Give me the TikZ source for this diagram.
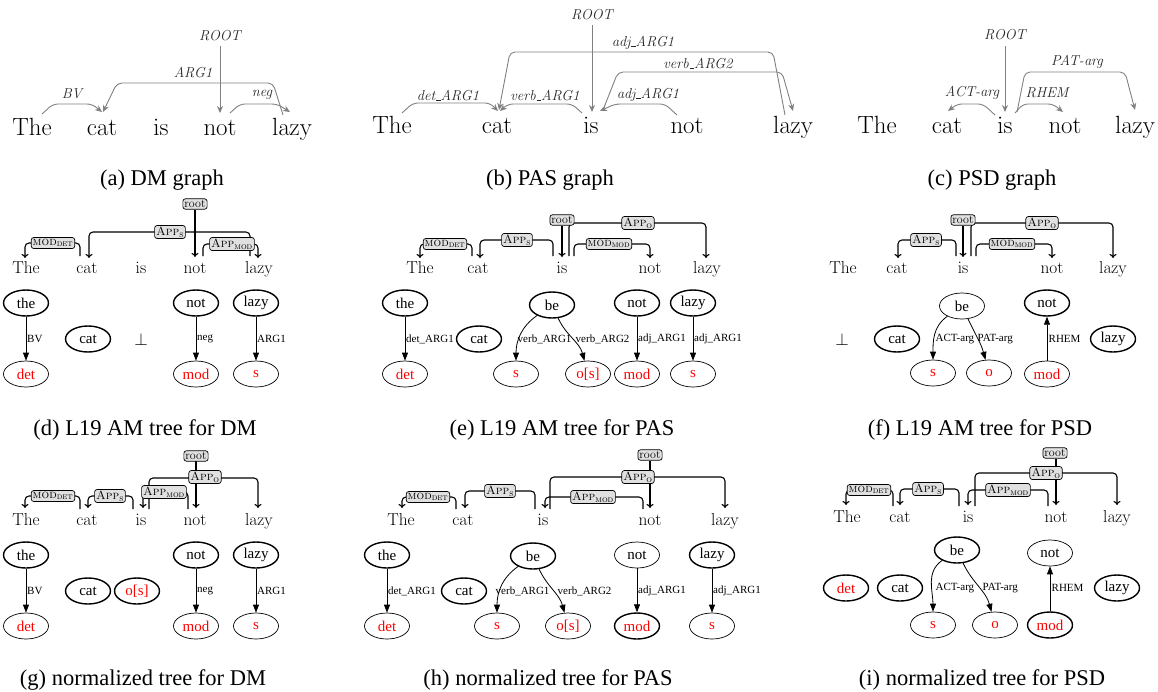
\documentclass[tikz,border=0pt]{standalone}
\usepackage{fontspec}
\newfontfamily\tms{Liberation Serif}
\newcommand{\lmf}{\fontencoding{OT1}\fontfamily{cmr}\selectfont}
\usetikzlibrary{arrows.meta,shapes.geometric}
\newcommand{\amAppS}{\textsc{App}\textsubscript{\textsc{s}}}
\newcommand{\amAppO}{\textsc{App}\textsubscript{\textsc{o}}}
\newcommand{\amAppMod}{\textsc{App}\textsubscript{\textsc{mod}}}
\newcommand{\amModDet}{\textsc{mod}\textsubscript{\textsc{det}}}
\newcommand{\amModMod}{\textsc{mod}\textsubscript{\textsc{mod}}}
\begin{document}
\begin{tikzpicture}[x=1pt,y=-1pt,
  gdep/.style={draw=black!50, line width=0.9pt, rounded corners=5pt, -{Stealth[length=7pt,width=6pt]}},
  glab/.style={font=\lmf\fontsize{15}{18}\selectfont\itshape, text=black!85, inner sep=0pt},
  topword/.style={font=\lmf\fontsize{23.5}{28}\selectfont, anchor=base, inner sep=0pt},
  tword/.style={font=\lmf\fontsize{18.5}{22}\selectfont, anchor=base, inner sep=0pt},
  capt/.style={font=\tms\fontsize{22.5}{27}\selectfont, anchor=base, inner sep=0pt},
  ambox/.style={draw, fill=black!12, rounded corners=2.5pt, inner sep=1.5pt, line width=0.7pt, font=\lmf\fontsize{12.5}{14}\selectfont},
  amline/.style={line width=1.1pt, rounded corners=4pt},
  amarr/.style={amline, -{To[length=4pt,width=7pt]}},
  ell/.style={ellipse, draw, line width=1.4pt, minimum width=45pt, minimum height=26pt, inner sep=0pt, font=\tms\fontsize{15}{18}\selectfont},
  ellthin/.style={ell, line width=0.7pt},
  rd/.style={text=red},
  tedge/.style={line width=0.8pt, -{Triangle[length=8pt,width=6pt]}},
  elab/.style={font=\tms\fontsize{11}{13}\selectfont, anchor=west, inner sep=0.5pt},
  perpn/.style={font=\lmf\fontsize{18}{22}\selectfont, inner sep=0pt}
]
\useasboundingbox (0,0) rectangle (1158,691);

%% ---------------- (a) DM graph
\node[topword] (aw1) at (32,135) {The};
\node[topword] (aw2) at (102,135) {cat};
\node[topword] (aw3) at (161,135) {is};
\node[topword] (aw4) at (220,135) {not};
\node[topword] (aw5) at (292,135) {lazy};
\draw[gdep] (42,114) -- (53,104) -- (92,104) -- (102,112);
\draw[gdep] (283,115) -- (273,83) -- (117,83) -- (103,112);
\draw[gdep] (230,113) -- (240,104) -- (277,104) -- (290,112);
\node[glab] (aroot) at (220,36) {ROOT};
\draw[gdep] (220,46) -- (220,113);
\node[glab] (alab1) at (72,94) {BV};
\node[glab] (alab2) at (193,73) {ARG1};
\node[glab] (alab3) at (262,95) {neg};
\node[capt] (capa) at (162,185) {(a) DM graph};

%% ---------------- (b) PAS graph
\node[topword] (bw1) at (392,133) {The};
\node[topword] (bw2) at (497,133) {cat};
\node[topword] (bw3) at (591,133) {is};
\node[topword] (bw4) at (687,133) {not};
\node[topword] (bw5) at (793,133) {lazy};
\draw[gdep] (402,113) -- (413,103) -- (490,103) -- (498,111);
\draw[gdep] (582,113) -- (572,104) -- (508,104) -- (500,111);
\draw[gdep] (677,115) -- (665,104) -- (615,104) -- (600,111);
\draw[gdep] (603,110) -- (618,72) -- (782,72) -- (793,111);
\draw[gdep] (785,115) -- (773,52) -- (510,52) -- (499,110);
\node[glab] (broot) at (592,15) {ROOT};
\draw[gdep] (592,25) -- (592,112);
\node[glab] (blab1) at (448,95) {det\_ARG1};
\node[glab] (blab2) at (545,95) {verb\_ARG1};
\node[glab] (blab3) at (648,95) {adj\_ARG1};
\node[glab] (blab4) at (698,63) {verb\_ARG2};
\node[glab] (blab5) at (643,43) {adj\_ARG1};
\node[capt] (capb) at (550,185) {(b) PAS graph};

%% ---------------- (c) PSD graph
\node[topword] (cw1) at (877,133) {The};
\node[topword] (cw2) at (947,133) {cat};
\node[topword] (cw3) at (1005,133) {is};
\node[topword] (cw4) at (1065,133) {not};
\node[topword] (cw5) at (1135,133) {lazy};
\draw[gdep] (995,115) -- (983,104) -- (957,104) -- (948,111);
\draw[gdep] (1015,113) -- (1023,104) -- (1053,104) -- (1063,112);
\draw[gdep] (1017,112) -- (1025,72) -- (1125,72) -- (1135,110);
\node[glab] (croot) at (1005,35) {ROOT};
\draw[gdep] (1005,46) -- (1005,112);
\node[glab] (clab1) at (972,93) {ACT-arg};
\node[glab] (clab2) at (1047,93) {RHEM};
\node[glab] (clab3) at (1077,62) {PAT-arg};
\node[capt] (capc) at (992,185) {(c) PSD graph};

%% ---------------- (d) L19 AM tree for DM
\node[tword] (dw1) at (26,273) {The};
\node[tword] (dw2) at (87,273) {cat};
\node[tword] (dw3) at (141,273) {is};
\node[tword] (dw4) at (195,273) {not};
\node[tword] (dw5) at (259,273) {lazy};
\draw[amarr] (195,210) -- (195,257);
\draw[amarr] (250,256) -- (250,232) -- (89,232) -- (89,258);
\draw[amarr] (203,256) -- (203,244) -- (258,244) -- (258,258);
\draw[amarr] (80,256) -- (80,243) -- (25,243) -- (25,258);
\node[ambox] (droot) at (195,204) {root};
\node[ambox] (dapps) at (170,232) {\amAppS};
\node[ambox] (dappm) at (232,244) {\amAppMod};
\node[ambox] (dmodd) at (53,243) {\amModDet};
\node[ell] (dthe) at (26,303) {the};
\node[ellthin,rd] (ddet) at (26,374) {det};
\node[ell] (dcat) at (88,339) {cat};
\node[perpn] (dbot) at (141,339) {$\perp$};
\node[ell] (dnot) at (196,303) {not};
\node[ellthin,rd] (dmod) at (196,374) {mod};
\node[ell] (dlazy) at (256,303) {lazy};
\node[ellthin,rd] (ds) at (256,374) {s};
\draw[tedge] (dthe) -- (ddet);
\draw[tedge] (dnot) -- (dmod);
\draw[tedge] (dlazy) -- (ds);
\node[elab] (dl1) at (26.5,339) {BV};
\node[elab] (dl2) at (196.5,339) {neg};
\node[elab] (dl3) at (256.5,339) {ARG1};
\node[capt] (capd) at (145,435) {(d) L19 AM tree for DM};

%% ---------------- (e) L19 AM tree for PAS
\node[tword] (ew1) at (420,273) {The};
\node[tword] (ew2) at (478,273) {cat};
\node[tword] (ew3) at (562,273) {is};
\node[tword] (ew4) at (650,273) {not};
\node[tword] (ew5) at (707,273) {lazy};
\draw[amarr] (562,226) -- (562,257);
\draw[amarr] (569,256) -- (569,223) -- (706,223) -- (706,258);
\draw[amarr] (574,256) -- (574,244) -- (650,244) -- (650,258);
\draw[amarr] (553,256) -- (553,240) -- (480,240) -- (480,258);
\draw[amarr] (472,256) -- (472,244) -- (420,244) -- (420,258);
\node[ambox] (eroot) at (562,220) {root};
\node[ambox] (eappo) at (638,223) {\amAppO};
\node[ambox] (emodm) at (609,244) {\amModMod};
\node[ambox] (eapps) at (517,240) {\amAppS};
\node[ambox] (emodd) at (445,244) {\amModDet};
\node[ell] (ethe) at (405,303) {the};
\node[ellthin,rd] (edet) at (405,374) {det};
\node[ell] (ecat) at (479,339) {cat};
\node[ell] (ebe) at (552,305) {be};
\node[ellthin,rd] (es1) at (516,374) {s};
\node[ellthin,rd] (eos) at (588,374) {o[s]};
\node[ell] (enot) at (637,303) {not};
\node[ellthin,rd] (emod) at (637,374) {mod};
\node[ell] (elazy) at (693,303) {lazy};
\node[ellthin,rd] (es2) at (693,374) {s};
\draw[tedge] (ethe) -- (edet);
\draw[tedge] (ebe) to[out=215,in=90] (es1);
\draw[tedge] (ebe) to[out=-65,in=105] (eos);
\draw[tedge] (enot) -- (emod);
\draw[tedge] (elazy) -- (es2);
\node[elab] (el1) at (405.5,339) {det\_ARG1};
\node[elab] (el2) at (517,339) {verb\_ARG1};
\node[elab] (el3) at (575,339) {verb\_ARG2};
\node[elab] (el4) at (637.5,339) {adj\_ARG1};
\node[elab] (el5) at (693.5,339) {adj\_ARG1};
\node[capt] (cape) at (562,435) {(e) L19 AM tree for PAS};

%% ---------------- (f) L19 AM tree for PSD
\node[tword] (fw1) at (843,273) {The};
\node[tword] (fw2) at (897,273) {cat};
\node[tword] (fw3) at (963,273) {is};
\node[tword] (fw4) at (1052,273) {not};
\node[tword] (fw5) at (1113,273) {lazy};
\draw[amarr] (963,226) -- (963,257);
\draw[amarr] (971,256) -- (971,223) -- (1113,223) -- (1113,258);
\draw[amarr] (976,256) -- (976,244) -- (1052,244) -- (1052,258);
\draw[amarr] (956,256) -- (956,240) -- (898,240) -- (898,258);
\node[ambox] (froot) at (963,220) {root};
\node[ambox] (fappo) at (1042,223) {\amAppO};
\node[ambox] (fmodm) at (1012,244) {\amModMod};
\node[ambox] (fapps) at (926,240) {\amAppS};
\node[perpn] (fbot) at (842,339) {$\perp$};
\node[ell] (fcat) at (897,339) {cat};
\node[ellthin] (fbe) at (962,306) {be};
\node[ellthin,rd] (fs) at (933,373) {s};
\node[ellthin,rd] (fo) at (989,373) {o};
\node[ell] (fnot) at (1047,303) {not};
\node[ellthin,rd] (fmod) at (1047,374) {mod};
\node[ell] (flazy) at (1113,339) {lazy};
\draw[tedge] (fbe) to[out=215,in=90] (fs);
\draw[tedge] (fbe) to[out=-65,in=105] (fo);
\draw[tedge] (fmod) -- (fnot);
\node[elab] (fl1) at (935,339) {ACT-arg};
\node[elab] (fl2) at (977,339) {PAT-arg};
\node[elab] (fl3) at (1048,339) {RHEM};
\node[capt] (capf) at (980,435) {(f) L19 AM tree for PSD};

%% ---------------- (g) normalized tree for DM
\node[tword] (gw1) at (26,525) {The};
\node[tword] (gw2) at (87,525) {cat};
\node[tword] (gw3) at (141,525) {is};
\node[tword] (gw4) at (195,525) {not};
\node[tword] (gw5) at (259,525) {lazy};
\draw[amarr] (196,461) -- (196,508);
\draw[amarr] (149,509) -- (149,478) -- (258,478) -- (258,508);
\draw[amarr] (188,509) -- (188,492) -- (143,492) -- (143,508);
\draw[amarr] (133,509) -- (133,496) -- (88,496) -- (88,508);
\draw[amarr] (80,509) -- (80,496) -- (25,496) -- (25,508);
\node[ambox] (groot) at (196,456) {root};
\node[ambox] (gappo) at (205,477) {\amAppO};
\node[ambox] (gappm) at (164,492) {\amAppMod};
\node[ambox] (gapps) at (110,496) {\amAppS};
\node[ambox] (gmodd) at (53,496) {\amModDet};
\node[ell] (gthe) at (26,555) {the};
\node[ellthin,rd] (gdet) at (26,626) {det};
\node[ell] (gcat) at (88,591) {cat};
\node[ell,rd] (gos) at (137,591) {o[s]};
\node[ell] (gnot) at (196,555) {not};
\node[ellthin,rd] (gmod) at (196,626) {mod};
\node[ell] (glazy) at (256,555) {lazy};
\node[ellthin,rd] (gs) at (256,626) {s};
\draw[tedge] (gthe) -- (gdet);
\draw[tedge] (gnot) -- (gmod);
\draw[tedge] (glazy) -- (gs);
\node[elab] (gl1) at (26.5,591) {BV};
\node[elab] (gl2) at (196.5,591) {neg};
\node[elab] (gl3) at (256.5,591) {ARG1};
\node[capt] (capg) at (143,685) {(g) normalized tree for DM};

%% ---------------- (h) normalized tree for PAS
\node[tword] (hw1) at (401,525) {The};
\node[tword] (hw2) at (463,525) {cat};
\node[tword] (hw3) at (543,525) {is};
\node[tword] (hw4) at (650,525) {not};
\node[tword] (hw5) at (725,525) {lazy};
\draw[amarr] (650,461) -- (650,508);
\draw[amarr] (550,509) -- (550,477) -- (725,477) -- (725,508);
\draw[amarr] (643,509) -- (643,497) -- (545,497) -- (545,508);
\draw[amarr] (535,509) -- (535,491) -- (465,491) -- (465,508);
\draw[amarr] (456,509) -- (456,497) -- (402,497) -- (402,508);
\node[ambox] (hroot) at (650,455) {root};
\node[ambox] (happo) at (638,477) {\amAppO};
\node[ambox] (happm) at (593,497) {\amAppMod};
\node[ambox] (happs) at (500,491) {\amAppS};
\node[ambox] (hmodd) at (428,497) {\amModDet};
\node[ell] (hthe) at (387,555) {the};
\node[ellthin,rd] (hdet) at (387,626) {det};
\node[ell] (hcat) at (464,591) {cat};
\node[ell] (hbe) at (533,556) {be};
\node[ellthin,rd] (hs1) at (497,626) {s};
\node[ellthin,rd] (hos) at (568,626) {o[s]};
\node[ellthin] (hnot) at (637,555) {not};
\node[ell,rd] (hmod) at (637,626) {mod};
\node[ell] (hlazy) at (712,555) {lazy};
\node[ellthin,rd] (hs2) at (712,626) {s};
\draw[tedge] (hthe) -- (hdet);
\draw[tedge] (hbe) to[out=215,in=90] (hs1);
\draw[tedge] (hbe) to[out=-65,in=105] (hos);
\draw[tedge] (hnot) -- (hmod);
\draw[tedge] (hlazy) -- (hs2);
\node[elab] (hl1) at (387.5,591) {det\_ARG1};
\node[elab] (hl2) at (495,591) {verb\_ARG1};
\node[elab] (hl3) at (557,591) {verb\_ARG2};
\node[elab] (hl4) at (637.5,591) {adj\_ARG1};
\node[elab] (hl5) at (712.5,591) {adj\_ARG1};
\node[capt] (caph) at (548,685) {(h) normalized tree for PAS};

%% ---------------- (i) normalized tree for PSD
\node[tword] (iw1) at (847,522) {The};
\node[tword] (iw2) at (900,522) {cat};
\node[tword] (iw3) at (968,522) {is};
\node[tword] (iw4) at (1056,522) {not};
\node[tword] (iw5) at (1117,522) {lazy};
\draw[amarr] (1056,459) -- (1056,505);
\draw[amarr] (975,506) -- (975,473) -- (1117,473) -- (1117,505);
\draw[amarr] (1048,506) -- (1048,490) -- (968,490) -- (968,505);
\draw[amarr] (959,506) -- (959,489) -- (900,489) -- (900,505);
\draw[amarr] (893,506) -- (893,490) -- (846,490) -- (846,505);
\node[ambox] (iroot) at (1055,453) {root};
\node[ambox] (iappo) at (1046,473) {\amAppO};
\node[ambox] (iappm) at (1008,490) {\amAppMod};
\node[ambox] (iapps) at (928,489) {\amAppS};
\node[ambox] (imodd) at (869,490) {\amModDet};
\node[ell] (ibe) at (957,550) {be};
\node[ell,rd] (idet) at (846,588) {det};
\node[ell] (icat) at (900,588) {cat};
\node[ellthin,rd] (is) at (933,625) {s};
\node[ellthin,rd] (io) at (995,625) {o};
\node[ellthin] (inot) at (1050,553) {not};
\node[ell,rd] (imod) at (1050,625) {mod};
\node[ell] (ilazy) at (1117,588) {lazy};
\draw[tedge] (ibe) to[out=215,in=90] (is);
\draw[tedge] (ibe) to[out=-65,in=105] (io);
\draw[tedge] (imod) -- (inot);
\node[elab] (il1) at (935,588) {ACT-arg};
\node[elab] (il2) at (982,588) {PAT-arg};
\node[elab] (il3) at (1051,588) {RHEM};
\node[capt] (capi) at (982,685) {(i) normalized tree for PSD};
\end{tikzpicture}
\end{document}
